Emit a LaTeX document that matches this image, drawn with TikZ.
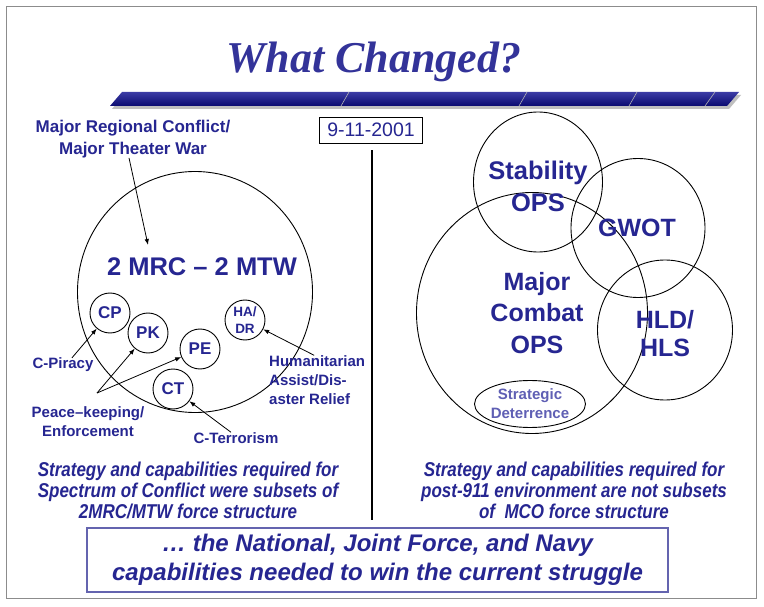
\documentclass[tikz,border=0pt]{standalone}
\usepackage{fontspec}
\setmainfont{Liberation Sans}
\newfontfamily\titlefont{Liberation Serif}
\newfontfamily\narrowsans[FakeStretch=0.85]{Liberation Sans}
\usetikzlibrary{arrows.meta,shapes.geometric}

\definecolor{slideblue}{RGB}{38,38,145}
\definecolor{titleblue}{RGB}{51,51,153}
\definecolor{barblue}{RGB}{10,10,112}
\definecolor{barlight}{RGB}{60,60,165}
\definecolor{paleblue}{RGB}{95,95,180}
\definecolor{boxblue}{RGB}{100,100,175}

\tikzset{
  ring/.style={ellipse,draw,line width=0.9pt,inner sep=0pt},
  small ring/.style={circle,draw,line width=0.9pt,inner sep=0pt,minimum size=40pt,
    text=slideblue,font=\bfseries\fontsize{17}{17}\selectfont},
  sidenote/.style={text=slideblue,font=\bfseries\fontsize{15}{19}\selectfont,
    align=center,inner sep=0pt},
  big label/.style={text=slideblue,align=center,inner sep=0pt},
  summary/.style={text=slideblue,font=\narrowsans\bfseries\itshape\fontsize{20}{21}\selectfont,
    align=center,inner sep=0pt},
  pointer/.style={-{Latex[length=6pt,width=4.5pt]},line width=0.8pt},
}

\begin{document}
\begin{tikzpicture}[x=1pt,y=-1pt]
    \useasboundingbox (0,0) rectangle (764,607);
    \fill[white] (0,0) rectangle (764,607);
    \draw[black!45,line width=1pt] (6,7) rectangle (756,598);

    % title and bar
    \node[anchor=base,text=titleblue,
    font=\titlefont\bfseries\itshape\fontsize{44}{44}\selectfont] (title) at (374,73) {What Changed?};

    \fill[black!25,shift={(2,3)}] (110,106) -- (122,92) -- (739,92) -- (727,106) -- cycle;
    \shade[top color=barlight,bottom color=barblue] (110,106) -- (122,92) -- (739,92) -- (727,106) -- cycle;
    \foreach \xb/\xt in {341/349,519/527,629/637,705/715}
      \draw[black!30,line width=0.6pt] (\xb,106) -- (\xt,92);

    % divider
    \node[draw,line width=0.8pt,minimum width=103pt,minimum height=26pt,inner sep=0pt,
    text=slideblue,font=\fontsize{19.5}{19.5}\selectfont] (date) at (371,130) {9-11-2001};
    \coordinate (divend) at (372,520);
    \draw[line width=2.2pt] ([yshift=-7pt]date.south -| divend) -- (divend);

    % left side
    \node[ring,minimum width=235pt,minimum height=241pt] (mrc) at (195,292) {};
    \node[big label,font=\bfseries\fontsize{25.5}{25.5}\selectfont] (mrctxt) at (202,267) {2 MRC -- 2 MTW};
    \node[sidenote,font=\bfseries\fontsize{17}{21.5}\selectfont] (mrclabel) at (133,139)
    {Major Regional Conflict/\\Major Theater War};
    \coordinate (mrcpt) at (148,245);
    \draw[pointer] ([xshift=-4pt]mrclabel.south) -- (mrcpt);

    \node[small ring] (cp) at (110,313) {CP};
    \node[small ring] (pk) at (148,333) {PK};
    \node[small ring] (pe) at (200,349) {PE};
    \node[small ring] (ct) at (173,389) {CT};
    \node[small ring,align=center,font=\bfseries\fontsize{13.5}{17}\selectfont] (hadr) at (245,320) {HA/\\DR};

    \node[sidenote] (cpiracy) at (63,365) {C-Piracy};
    \draw[pointer] ([xshift=9pt]cpiracy.north) -- (cp);

    \node[sidenote] (peace) at (88,422) {Peace--keeping/\\Enforcement};
    \coordinate (pkfork) at (97,393);
    \draw[pointer] (pkfork) -- (pk);
    \draw[pointer] (pkfork) -- (pe);

    \node[sidenote,align=left,anchor=west] (humlabel) at (269,380)
    {Humanitarian\\Assist/Dis-\\aster Relief};
    \draw[pointer] ([xshift=-3pt]humlabel.north) -- (hadr);

    \node[sidenote] (cterr) at (236,438) {C-Terrorism};
    \draw[pointer] ([xshift=-5pt]cterr.north) -- (ct);

    \node[summary] (leftsum) at (188,490)
    {Strategy and capabilities required for\\Spectrum of Conflict were subsets of\\2MRC/MTW force structure};

    % right side
    \node[ring,minimum width=231pt,minimum height=241pt] (mco) at (532,313) {};
    \node[ring,minimum width=129pt,minimum height=140pt] (stab) at (538,182) {};
    \node[ring,minimum width=134pt,minimum height=139pt] (gwot) at (638,228) {};
    \node[ring,minimum width=135pt,minimum height=140pt] (hld) at (665,330) {};
    \node[ring,minimum width=111pt,minimum height=47pt,
    text=paleblue,align=center,font=\bfseries\fontsize{15}{19}\selectfont] (deter) at (530,404)
    {Strategic\\Deterrence};

    \node[big label,font=\bfseries\fontsize{25.5}{32}\selectfont] (stabtxt) at (538,186) {Stability\\OPS};
    \node[big label,font=\bfseries\fontsize{25}{25}\selectfont] (gwottxt) at (637,228) {GWOT};
    \node[big label,font=\bfseries\fontsize{25}{31.5}\selectfont] (mcotxt) at (537,313) {Major\\Combat\\OPS};
    \node[big label,font=\bfseries\fontsize{25}{28}\selectfont] (hldtxt) at (665,334) {HLD/\\HLS};

    \node[summary] (rightsum) at (574,490)
    {Strategy and capabilities required for\\post-911 environment are not subsets\\of~ MCO force structure};

    % bottom box
    \node[draw=boxblue,line width=1.2pt,minimum width=581pt,minimum height=64pt,inner sep=0pt,
    text=slideblue,align=center,font=\bfseries\itshape\fontsize{24}{29}\selectfont] (struggle) at (377.5,560)
    {\dots\ the National, Joint Force, and Navy\\capabilities needed to win the current struggle};
\end{tikzpicture}
\end{document}
